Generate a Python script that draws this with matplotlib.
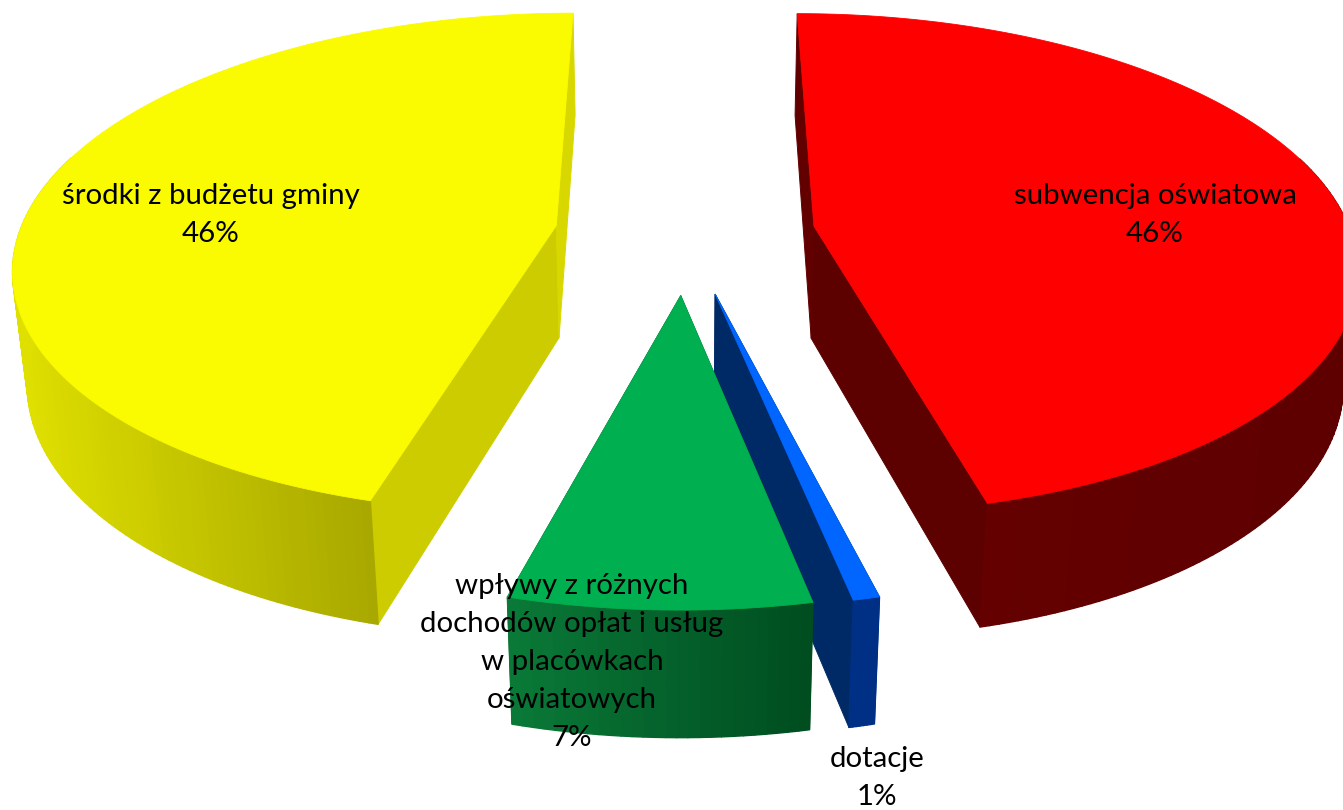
import numpy as np
import matplotlib
matplotlib.use("Agg")
import matplotlib.pyplot as plt
from matplotlib.collections import PolyCollection
from matplotlib.colors import to_rgb

# clockwise from twelve o'clock
names = ["subwencja oświatowa", "dotacje",
         "wpływy z różnych\ndochodów opłat i usług\nw placówkach\noświatowych",
         "środki z budżetu gminy"]
shares = [46.1, 0.66, 7.48, 45.76]
top_colors = ["#ff0000", "#0066ff", "#00b050", "#fafa00"]
wall_left = ["#640000", "#003085", "#0a7a38", "#e0e000"]
wall_right = ["#5e0000", "#003085", "#004d20", "#a8a800"]
cut_first = ["#620000", "#002a66", "#005028", "#d8d800"]
cut_last = ["#5c0000", "#002a66", "#005028", "#cccc00"]
label_xy = [(1155, 215), (877, 778), (572, 662), (211, 215)]

EXPLODE = 0.243
DEPTH = 1.0

plt.rcParams["font.family"] = ["Lato", "DejaVu Sans"]


def project(x, y, z):
    # simple perspective camera, fitted by eye to the reference
    w = 1 + 0.15 * y - 0.022 * z
    return 685 + 537 * x / w, 233.5 - (246.5 * y + 114.9 * z) / w


def lerp(a, b, t):
    a, b = np.array(to_rgb(a)), np.array(to_rgb(b))
    return tuple(a + (b - a) * t)


fig = plt.figure(figsize=(13.43, 8.10), dpi=100)
ax = fig.add_axes([0, 0, 1, 1])
ax.set_xlim(0, 1343)
ax.set_ylim(810, 0)
ax.axis("off")

ends = np.cumsum(shares) / np.sum(shares) * 2 * np.pi
starts = np.r_[0, ends[:-1]]

for i in [0, 3, 2, 1]:
    a0, a1 = starts[i], ends[i]
    mid = (a0 + a1) / 2
    ox, oy = EXPLODE * np.sin(mid), EXPLODE * np.cos(mid)
    t = np.linspace(a0, a1, max(int((a1 - a0) * 60), 8))
    rx, ry = ox + np.sin(t), oy + np.cos(t)

    # the two cut faces
    cuts = ((0, cut_first[i]), (-1, cut_last[i]))
    if i == 3:
        cuts = ((0, cut_last[i]), (-1, cut_first[i]))
    for k, col in cuts:
        face = [project(ox, oy, 0), project(rx[k], ry[k], 0),
                project(rx[k], ry[k], -DEPTH), project(ox, oy, -DEPTH)]
        ax.fill(*zip(*face), facecolor=col, edgecolor=col, lw=0.7,
                zorder=i * 3 + 1)

    # outer wall, only the part that faces the viewer
    keep = np.cos(t) < 0.3
    tx, ty = project(rx[keep], ry[keep], 0)
    bx, by = project(rx[keep], ry[keep], -DEPTH)
    quads, cols = [], []
    shade = (tx - tx.min()) / (tx.max() - tx.min())
    for j in range(len(tx) - 1):
        quads.append([(tx[j], ty[j]), (tx[j + 1], ty[j + 1]),
                      (bx[j + 1], by[j + 1]), (bx[j], by[j])])
        cols.append(lerp(wall_left[i], wall_right[i], shade[j]))
    ax.add_collection(PolyCollection(quads, facecolors=cols, edgecolors=cols,
                                     linewidths=1.0, zorder=i * 3 + 2))

    # top of the slice
    px, py = project(np.r_[ox, rx], np.r_[oy, ry], 0)
    ax.fill(px, py, facecolor=top_colors[i], edgecolor=top_colors[i], lw=0.6,
            zorder=i * 3 + 3)

for name, share, (lx, ly) in zip(names, shares, label_xy):
    ax.text(lx, ly, f"{name}\n{round(share)}%", ha="center", va="center",
            fontsize=21.2, color="black", linespacing=1.58, zorder=50)

fig.savefig("out.png", dpi=100)
